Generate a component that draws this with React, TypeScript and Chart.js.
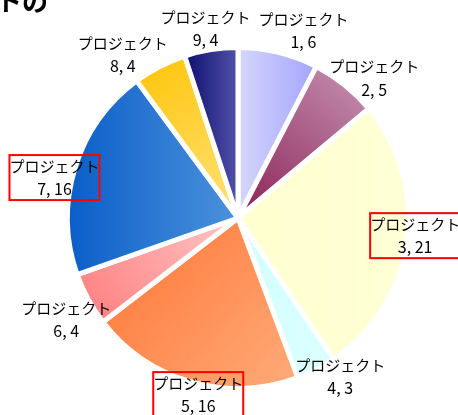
import React, { useEffect, useRef } from "react";
import { Chart, registerables } from "chart.js";

Chart.register(...registerables);

// ---- data ----
const categories = [
  "プロジェクト1",
  "プロジェクト2",
  "プロジェクト3",
  "プロジェクト4",
  "プロジェクト5",
  "プロジェクト6",
  "プロジェクト7",
  "プロジェクト8",
  "プロジェクト9",
];
const values = [6, 5, 21, 3, 16, 4, 16, 4, 4];
const titleFragment = "トの";

// ---- styles ----
const gradientStops: [string, string][] = [
  ["#d6d6fb", "#a4a4ff"],
  ["#8a2256", "#c794b4"],
  ["#ffffcf", "#ffffd6"],
  ["#d2ffff", "#dcffff"],
  ["#ff7432", "#ffab7a"],
  ["#ff7c7c", "#ffc6c6"],
  ["#0a5ec8", "#4c92dc"],
  ["#ffc406", "#ffe27c"],
  ["#0e0e70", "#5252aa"],
];
const gradientDirs = ["lr", "bltr", "lr", "lr", "tlbr", "bltr", "lr", "tlbr", "lr"];
const labelNudges: [number, number][] = [
  [20, -1],
  [16, 10],
  [-13, -9],
  [14, -12],
  [13, -8],
  [-3, 10],
  [0, 16],
  [-27, 7],
  [-2, 0],
];
const boxedLabels = [2, 4, 6];
const BORDER = 5;
const NAME_FONT = '15px "Noto Sans CJK JP", "Noto Sans", sans-serif';
const VALUE_FONT = '16px "Noto Sans CJK JP", "Noto Sans", sans-serif';

function sliceGradient(ctx: any) {
  const chart = ctx.chart;
  const i = ctx.dataIndex;
  const area = chart.chartArea;
  if (i === undefined || !area) return gradientStops[0][0];
  const cx = (area.left + area.right) / 2;
  const cy = (area.top + area.bottom) / 2;
  const r = (Math.min(area.right - area.left, area.bottom - area.top) - BORDER) / 2;
  const total = values.reduce((a, b) => a + b, 0);
  const before = values.slice(0, i).reduce((a, b) => a + b, 0);
  const a0 = -Math.PI / 2 + (before / total) * Math.PI * 2;
  const a1 = a0 + (values[i] / total) * Math.PI * 2;
  let minX = cx, maxX = cx, minY = cy, maxY = cy;
  const steps = 40;
  for (let k = 0; k <= steps; k++) {
    const a = a0 + ((a1 - a0) * k) / steps;
    const px = cx + Math.cos(a) * r;
    const py = cy + Math.sin(a) * r;
    minX = Math.min(minX, px);
    maxX = Math.max(maxX, px);
    minY = Math.min(minY, py);
    maxY = Math.max(maxY, py);
  }
  const c = chart.ctx as CanvasRenderingContext2D;
  const dir = gradientDirs[i];
  let g: CanvasGradient;
  if (dir === "bltr") g = c.createLinearGradient(minX, maxY, maxX, minY);
  else if (dir === "tlbr") g = c.createLinearGradient(minX, minY, maxX, maxY);
  else g = c.createLinearGradient(minX, (minY + maxY) / 2, maxX, (minY + maxY) / 2);
  g.addColorStop(0, gradientStops[i][0]);
  g.addColorStop(1, gradientStops[i][1]);
  return g;
}

const labelPlugin = {
  id: "sliceLabels",
  afterDatasetsDraw(chart: any) {
    const ctx = chart.ctx as CanvasRenderingContext2D;
    const meta = chart.getDatasetMeta(0);
    ctx.save();
    ctx.fillStyle = "#000";
    ctx.textAlign = "center";
    ctx.textBaseline = "middle";
    meta.data.forEach((arc: any, i: number) => {
      const p = arc.getProps(["x", "y", "startAngle", "endAngle", "outerRadius"], true);
      const mid = (p.startAngle + p.endAngle) / 2;
      const d = p.outerRadius + 21.5;
      const lx = p.x + Math.cos(mid) * d + labelNudges[i][0];
      const ly = p.y + Math.sin(mid) * d + labelNudges[i][1];
      const cat = categories[i];
      const m = cat.match(/^(.*?)(\d+)$/);
      const line1 = m ? m[1] : cat;
      const line2 = (m ? m[2] : "") + ", " + values[i];
      ctx.font = NAME_FONT;
      ctx.fillText(line1, lx, ly - 11.5);
      ctx.font = VALUE_FONT;
      ctx.fillText(line2, lx, ly + 11.5);
      if (boxedLabels.includes(i)) {
        ctx.save();
        ctx.strokeStyle = "#ff0000";
        ctx.lineWidth = 2;
        ctx.strokeRect(lx - 45, ly - 22.5, 90, 45);
        ctx.restore();
      }
    });
    ctx.restore();
  },
  afterDraw(chart: any) {
    const ctx = chart.ctx as CanvasRenderingContext2D;
    ctx.save();
    ctx.font = 'bold 26px "Noto Sans CJK JP", sans-serif';
    ctx.fillStyle = "#000";
    ctx.textAlign = "left";
    ctx.textBaseline = "alphabetic";
    ctx.fillText(titleFragment, -4, 11);
    ctx.restore();
  },
};

export default function App() {
  const ref = useRef<HTMLCanvasElement | null>(null);
  useEffect(() => {
    if (!ref.current) return;
    const chart = new Chart(ref.current, {
      type: "pie",
      data: {
        labels: categories,
        datasets: [
          {
            data: values,
            backgroundColor: sliceGradient as any,
            borderColor: "#ffffff",
            borderWidth: BORDER,
          },
        ],
      },
      options: {
        responsive: false,
        animation: false,
        layout: { padding: { left: 65, top: 45, right: 47, bottom: 24 } },
        plugins: {
          legend: { display: false },
          tooltip: { enabled: false },
          title: { display: false },
        },
      },
      plugins: [labelPlugin],
    });
    return () => chart.destroy();
  }, []);
  return (
    <div style={{ position: "fixed", left: 0, top: 0, width: 458, height: 415, background: "#fff" }}>
      <canvas ref={ref} width={458} height={415} />
    </div>
  );
}
